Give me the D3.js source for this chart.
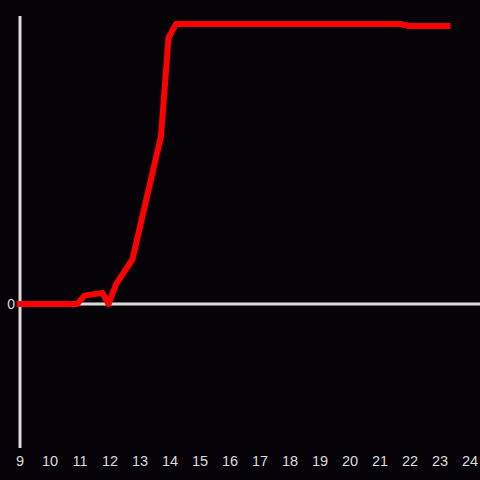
<!DOCTYPE html>
<html>
<head>
<meta charset="utf-8">
<script src="https://cdn.jsdelivr.net/npm/d3@7"></script>
<style>
  html, body { margin: 0; padding: 0; background: #050307; }
  svg { display: block; }
</style>
</head>
<body>
<svg id="canvas" width="480" height="480"></svg>
<script>
const hours = [9, 10.9, 11.15, 11.75, 11.95, 12.2, 12.75, 13.7, 13.95, 14.2, 21.7, 21.95, 23.25];
const values = [0, 0, 0.03, 0.04, 0.0, 0.07, 0.16, 0.6, 0.95, 1.0, 1.0, 0.993, 0.993];
const xTicks = d3.range(9, 25);
const yTicks = [0];

const svg = d3.select('#canvas');

const x = d3.scaleLinear()
  .domain([9, 24])
  .range([20, 470]);

const y = d3.scaleLinear()
  .domain([-0.514, 1.0286])
  .range([448, 16]);

const axisColor = "#dcdcdc";

// vertical axis line
svg.append("line")
  .attr("x1", x(9)).attr("x2", x(9))
  .attr("y1", y.range()[0]).attr("y2", y.range()[1])
  .attr("stroke", axisColor)
  .attr("stroke-width", 3);

// zero line
svg.append("line")
  .attr("x1", x(9)).attr("x2", 480)
  .attr("y1", y(0)).attr("y2", y(0))
  .attr("stroke", axisColor)
  .attr("stroke-width", 3);

// y tick labels
svg.append("g")
  .selectAll("text")
  .data(yTicks)
  .join("text")
  .attr("x", 15)
  .attr("y", d => y(d) + 5)
  .attr("text-anchor", "end")
  .attr("font-family", "Liberation Sans, Arial, sans-serif")
  .attr("font-size", "14px")
  .attr("fill", axisColor)
  .text(d => d);

// x tick labels
svg.append("g")
  .selectAll("text")
  .data(xTicks)
  .join("text")
  .attr("x", d => x(d))
  .attr("y", 466)
  .attr("text-anchor", "middle")
  .attr("font-family", "Liberation Sans, Arial, sans-serif")
  .attr("font-size", "14.5px")
  .attr("fill", axisColor)
  .text(d => d);

const line = d3.line()
  .x((d, i) => x(hours[i]))
  .y(d => y(d));

svg.append("path")
  .attr("d", line(values))
  .attr("fill", "none")
  .attr("stroke", "#ff0000")
  .attr("stroke-width", 6)
  .attr("stroke-linecap", "square")
  .attr("stroke-linejoin", "round");
</script>
</body>
</html>
